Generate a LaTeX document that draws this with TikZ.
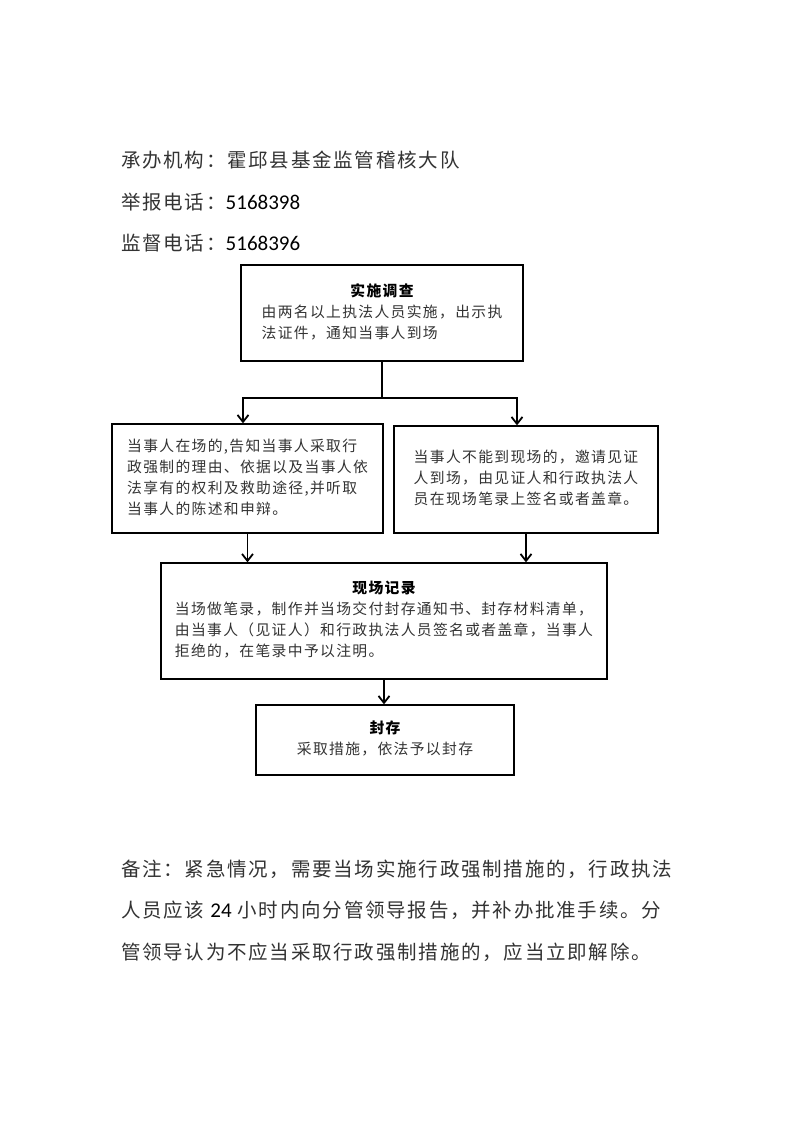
\documentclass[tikz,border=0pt]{standalone}
\usepackage{fontspec}
\setmainfont{Noto Sans CJK SC}[LetterSpace=9]
\newfontfamily\numfont{Carlito}
\usetikzlibrary{arrows.meta}
\colorlet{txt}{black!80}
\newcommand{\dg}[1]{{\color{black}\numfont\fontsize{21}{22}\selectfont #1}}
\newcommand{\ttl}[1]{\multicolumn{1}{@{}c@{}}{\color{black}\bfseries #1}}
\begin{document}
\begin{tikzpicture}[x=1pt,y=-1pt,
  box/.style={draw, line width=1.3pt, inner sep=0pt, font=\fontsize{14.8}{21}\selectfont, text=txt},
  arr/.style={line width=1.8pt, -{Straight Barb[length=7pt,width=11pt]}},
  ln/.style={line width=1.8pt},
  head/.style={anchor=west, inner sep=0pt, font=\fontsize{19.5}{22}\selectfont, text=txt}]
\fill[white] (0,0) rectangle (793,1122);
\path[use as bounding box] (0,0) rectangle (793,1122);

% header
\node[head] (org) at (121,160) {承办机构：霍邱县基金监管稽核大队};
\node[head] (tel1) at (121,202) {举报电话：\dg{5168398}};
\node[head] (tel2) at (121,243) {监督电话：\dg{5168396}};

% boxes
\node[box, minimum width=282pt, minimum height=96pt] (b1) at (382,313)
  {\raisebox{3pt}{\begin{tabular}{@{}l@{}}\ttl{实施调查}\\由两名以上执法人员实施，出示执\\法证件，通知当事人到场\end{tabular}}};
\node[box, minimum width=271pt, minimum height=109pt] (b2) at (247.5,478.5)
  {\begin{tabular}{@{}l@{}}当事人在场的,告知当事人采取行\\政强制的理由、依据以及当事人依\\法享有的权利及救助途径,并听取\\当事人的陈述和申辩。\end{tabular}};
\node[box, minimum width=264pt, minimum height=107pt] (b3) at (526,479.5)
  {\raisebox{3pt}{\begin{tabular}{@{}l@{}}当事人不能到现场的，邀请见证\\人到场，由见证人和行政执法人\\员在现场笔录上签名或者盖章。\end{tabular}}};
\node[box, minimum width=446pt, minimum height=116pt] (b4) at (384,621)
  {\begin{tabular}{@{}l@{}}\ttl{现场记录}\\当场做笔录，制作并当场交付封存通知书、封存材料清单，\\由当事人（见证人）和行政执法人员签名或者盖章，当事人\\拒绝的，在笔录中予以注明。\end{tabular}};
\node[box, minimum width=258pt, minimum height=70pt] (b5) at (385,740)
  {\begin{tabular}{@{}l@{}}\ttl{封存}\\采取措施，依法予以封存\end{tabular}};

% connectors
\draw[ln] (b1.south) -- ++(0,36) coordinate (j);
\draw[arr] (j) -| ([xshift=-4.5pt]b2.north);
\draw[arr] (j) -| ([xshift=-9pt]b3.north);
\draw[arr] (b2.south) -- (b2.south |- b4.north);
\draw[arr] (b3.south) -- (b3.south |- b4.north);
\draw[arr] (b4.south) -- (b4.south |- b5.north);

% footer
\node[head] (n1) at (121,869) {备注：紧急情况，需要当场实施行政强制措施的，行政执法};
\node[head] (n2) at (121,910) {人员应该\hspace{6pt}\dg{24}\hspace{6pt}小时内向分管领导报告，并补办批准手续。分};
\node[head] (n3) at (121,952) {管领导认为不应当采取行政强制措施的，应当立即解除。};
\end{tikzpicture}
\end{document}
